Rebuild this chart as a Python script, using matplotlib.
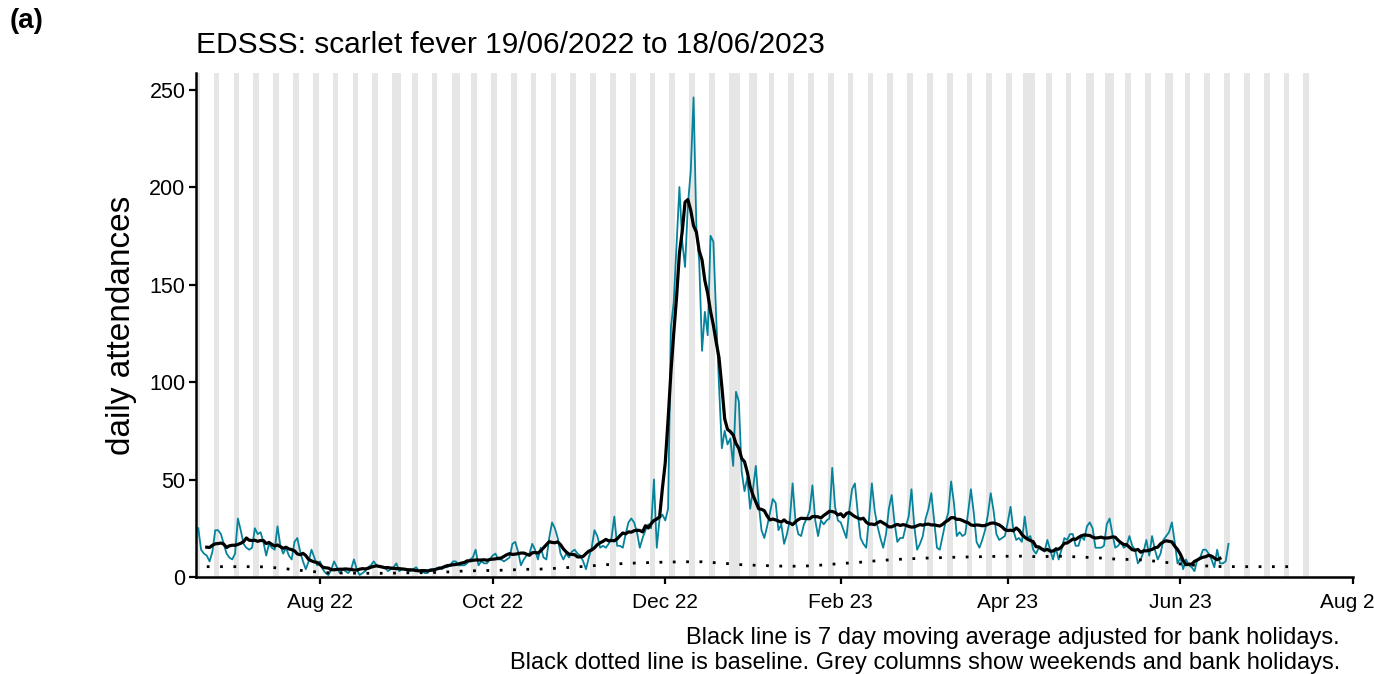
import matplotlib
matplotlib.use("Agg")
import matplotlib.pyplot as plt
import matplotlib.dates as mdates
import pandas as pd
import numpy as np

plt.rcParams['font.family'] = ['Liberation Sans', 'DejaVu Sans']

# ---------------- data ----------------
start_date = "2022-06-19"
# daily attendances, one value per day from Sun 19/06/2022 to Sun 18/06/2023 (weeks Sun..Sat)
daily = [
    25, 14, 12, 11, 8, 13, 24,
    24, 22, 17, 12, 10, 9, 12,
    30, 24, 17, 15, 14, 15, 25,
    22, 23, 18, 11, 17, 15, 14,
    26, 16, 12, 15, 11, 9, 18,
    20, 13, 8, 4, 8, 14, 10,
    6, 8, 4, 2, 1, 4, 8,
    5, 2, 4, 3, 2, 4, 9,
    4, 1, 2, 3, 5, 6, 8,
    6, 5, 5, 5, 3, 4, 5,
    7, 3, 4, 4, 3, 3, 4,
    5, 3, 3, 2, 2, 4, 4,
    4, 5, 4, 5, 5, 6, 8,
    8, 6, 6, 6, 7, 9, 10,
    14, 6, 8, 7, 7, 9, 11,
    12, 9, 9, 8, 9, 10, 17,
    18, 13, 6, 9, 11, 12, 17,
    14, 9, 15, 10, 9, 20, 28,
    25, 20, 12, 9, 12, 10, 13,
    14, 12, 11, 8, 4, 10, 15,
    24, 21, 15, 16, 15, 17, 20,
    31, 16, 16, 15, 22, 28, 30,
    28, 23, 15, 20, 24, 27, 25,
    50, 15, 30, 32, 29, 35, 128,
    141, 170, 200, 172, 159, 191, 208,
    246, 179, 162, 116, 136, 124, 175,
    172, 133, 98, 66, 75, 68, 71,
    57, 95, 90, 54, 44, 51, 35,
    45, 57, 38, 24, 20, 26, 33,
    40, 38, 24, 27, 17, 22, 29,
    48, 29, 22, 21, 27, 30, 34,
    47, 29, 21, 29, 27, 29, 30,
    56, 36, 29, 28, 24, 20, 34,
    45, 48, 33, 20, 17, 15, 30,
    48, 34, 26, 20, 15, 22, 35,
    42, 28, 18, 20, 20, 26, 31,
    45, 26, 14, 17, 21, 30, 35,
    43, 29, 15, 14, 21, 28, 33,
    49, 38, 21, 23, 21, 22, 33,
    45, 33, 18, 15, 19, 24, 32,
    43, 34, 22, 19, 20, 21, 28,
    36, 24, 19, 20, 18, 31, 20,
    21, 14, 12, 15, 14, 13, 19,
    14, 9, 15, 9, 14, 20, 19,
    22, 22, 16, 16, 21, 19, 26,
    28, 25, 15, 15, 15, 16, 27,
    30, 22, 15, 16, 18, 15, 16,
    21, 16, 14, 7, 9, 13, 19,
    11, 21, 14, 9, 12, 19, 21,
    23, 28, 18, 7, 10, 4, 9,
    6, 5, 3, 9, 10, 14, 14,
    12, 9, 5, 14, 7, 7, 8,
    17,
]

# baseline, one value per week starting Wed 22/06/2022
baseline_start = "2022-06-22"
baseline = [5.3, 5.3, 5.3, 5.2, 4.2, 3.1, 2.2, 2.0, 1.9, 1.9,
            2.1, 2.2, 2.5, 3.1, 3.3, 3.5, 3.9, 4.1, 4.7, 5.4,
            6.2, 6.9, 7.3, 7.6, 7.8, 7.8, 7.1, 6.3, 5.9, 5.6,
            5.5, 6.1, 6.9, 7.6, 8.5, 9.1, 9.6, 9.9, 10.2, 10.4,
            10.6, 10.7, 10.4, 10.7, 10.3, 9.8, 9.1, 8.9, 8.0, 6.8,
            5.9, 5.4, 5.3, 5.3, 5.3, 5.3]

bank_holidays = ["2022-08-29", "2022-09-19", "2022-12-26", "2022-12-27",
                 "2023-01-02", "2023-04-07", "2023-04-10", "2023-05-01",
                 "2023-05-08", "2023-05-29"]
shade_start, shade_end = "2022-06-19", "2023-07-16"

tick_dates = ["2022-08-01", "2022-10-01", "2022-12-01", "2023-02-01",
              "2023-04-01", "2023-06-01", "2023-08-01"]
tick_labels = ["Aug 22", "Oct 22", "Dec 22", "Feb 23", "Apr 23", "Jun 23", "Aug 23"]
y_ticks = [0, 50, 100, 150, 200, 250]

title = "EDSSS: scarlet fever 19/06/2022 to 18/06/2023"
caption1 = "Black line is 7 day moving average adjusted for bank holidays."
caption2 = "Black dotted line is baseline. Grey columns show weekends and bank holidays."

# ---------------- derived ----------------
dates = pd.date_range(start_date, periods=len(daily), freq="D")
ma7 = pd.Series(daily, dtype=float).rolling(7, center=True).mean()
base_dates = pd.date_range(baseline_start, periods=len(baseline), freq="7D")
all_days = pd.date_range(shade_start, shade_end, freq="D")
shade_days = sorted(set([d for d in all_days if d.weekday() >= 5] +
                        [pd.Timestamp(b) for b in bank_holidays]))

# ---------------- figure ----------------
W, H = 1374, 674
fig = plt.figure(figsize=(W / 100, H / 100), dpi=100)
L, R, T, B = 196, 1353, 73, 577
ax = fig.add_axes([L / W, 1 - B / H, (R - L) / W, (B - T) / H])

for d in shade_days:
    x = mdates.date2num(d)
    ax.axvspan(x - 0.5, x + 0.5, color="#E6E6E6", lw=0, zorder=0)

ax.plot(dates, daily, color="#06839B", lw=1.3, zorder=2)
ax.plot(base_dates, baseline, color="black", lw=2.0,
        linestyle=(0, (1, 3.8)), dash_capstyle="butt", zorder=3)
ax.plot(dates, ma7, color="black", lw=2.3, zorder=4)

x0 = mdates.date2num(pd.Timestamp(start_date)) - 0.8
x1 = mdates.date2num(pd.Timestamp("2023-08-01"))
ax.set_xlim(x0, x1)
ax.set_ylim(0, 258.5)

ax.set_xticks([mdates.date2num(pd.Timestamp(t)) for t in tick_dates])
ax.set_xticklabels(tick_labels)
ax.set_yticks(y_ticks)
ax.set_yticklabels([str(v) for v in y_ticks])

for s in ["top", "right"]:
    ax.spines[s].set_visible(False)
for s in ["left", "bottom"]:
    ax.spines[s].set_linewidth(1.8)
    ax.spines[s].set_color("black")

ax.tick_params(axis="x", length=5, width=1.6, pad=6.5, labelsize=15, colors="black")
ax.tick_params(axis="y", length=5, width=1.6, pad=2.5, labelsize=15.5, colors="black")

fig.text(10 / W, 1 - 21 / H, "(a)", fontsize=20, fontweight="bold",
         ha="left", va="center")
fig.text(L / W, 1 - 53 / H, title, fontsize=21.5, ha="left", va="baseline")
fig.text(122 / W, 1 - 325 / H, "daily attendances", fontsize=24,
         rotation=90, ha="center", va="center")
fig.text(1340 / W, 1 - 644 / H, caption1, fontsize=17, ha="right", va="baseline")
fig.text(1340 / W, 1 - 669 / H, caption2, fontsize=17, ha="right", va="baseline")

fig.savefig("out.png", dpi=100)
